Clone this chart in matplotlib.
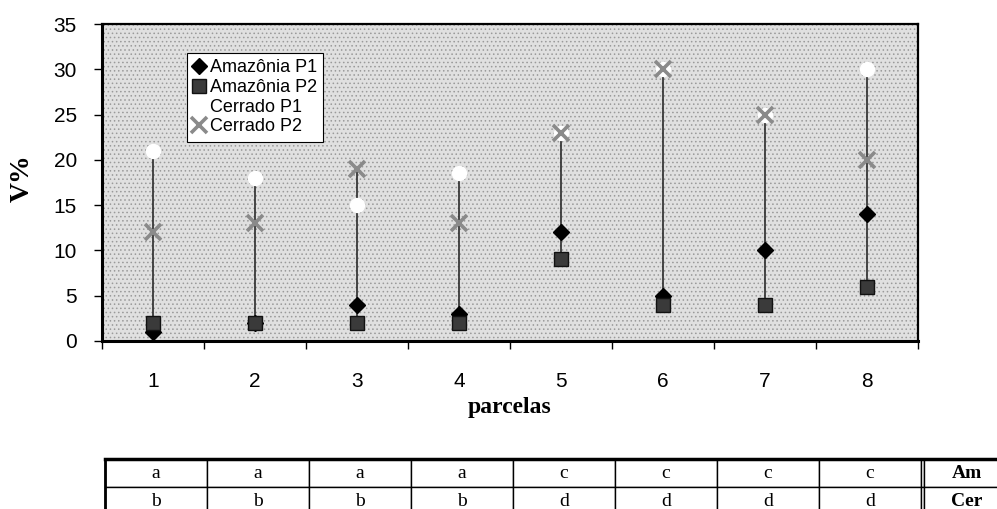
import matplotlib
matplotlib.use("Agg")
import matplotlib.pyplot as plt
import numpy as np

# valores
parcelas = [1, 2, 3, 4, 5, 6, 7, 8]
amazonia_p1 = [1, 2, 4, 3, 12, 5, 10, 14]
amazonia_p2 = [2, 2, 2, 2, 9, 4, 4, 6]
cerrado_p1 = [21, 18, 15, 18.5, 23, 30, 25, 30]
cerrado_p2 = [12, 13, 19, 13, 23, 30, 25, 20]

linha_am = ["a", "a", "a", "a", "c", "c", "c", "c"]
linha_cer = ["b", "b", "b", "b", "d", "d", "d", "d"]

W, H = 997, 509
plt.rcParams['hatch.linewidth'] = 0.6
plt.rcParams['font.family'] = ['Liberation Sans', 'DejaVu Sans']

fig = plt.figure(figsize=(W / 100, H / 100), dpi=100)

# eixo principal (pixels -> fracao)
x0, x1, ytop, ybot = 102, 918, 24, 341
ax = fig.add_axes([x0 / W, 1 - ybot / H, (x1 - x0) / W, (ybot - ytop) / H])
ax.set_facecolor('#e0e0e0')
ax.add_patch(plt.Rectangle((0, 0), 1, 1, transform=ax.transAxes, facecolor='none',
                           edgecolor='#9a9a9a', hatch='....', lw=0, zorder=0))

todas = np.array([amazonia_p1, amazonia_p2, cerrado_p1, cerrado_p2])
ax.vlines(parcelas, todas.min(axis=0), todas.max(axis=0), color='#2a2a2a', lw=1.2, zorder=2)

ax.plot(parcelas, amazonia_p1, ls='none', marker='D', ms=8.5, color='black', label='Amazônia P1', zorder=3)
ax.plot(parcelas, amazonia_p2, ls='none', marker='s', ms=10.5, color='#3a3a3a', mec='#111111',
        label='Amazônia P2', zorder=4)
ax.plot(parcelas, cerrado_p1, ls='none', marker='o', ms=10, color='white', mec='white',
        label='Cerrado P1', zorder=5)
ax.plot(parcelas, cerrado_p2, ls='none', marker='x', ms=11, mew=2.6, color='#8a8a8a',
        label='Cerrado P2', zorder=6)

ax.set_xlim(0.5, 8.5)
ax.set_ylim(0, 35)
ax.set_yticks(range(0, 36, 5))
ax.set_xticks(parcelas)
ax.set_xticks(np.arange(0.5, 9, 1), minor=True)
ax.tick_params(axis='x', which='major', length=0, pad=22, labelsize=15)
ax.tick_params(axis='x', which='minor', length=6, width=1, direction='out')
ax.tick_params(axis='y', length=6, width=1, direction='out', pad=12, labelsize=15)

for s in ['left', 'bottom']:
    ax.spines[s].set_linewidth(2.2)
for s in ['top', 'right']:
    ax.spines[s].set_linewidth(1.6)

leg = ax.legend(loc='upper left', bbox_to_anchor=((187 - x0) / (x1 - x0), (ybot - 53) / (ybot - ytop)),
                borderaxespad=0, fancybox=False, edgecolor='black', framealpha=1,
                fontsize=13, handlelength=0.6, handletextpad=0.3, labelspacing=0.15,
                borderpad=0.35, numpoints=1)
leg.get_frame().set_linewidth(0.8)

fig.text(22 / W, 1 - 178 / H, 'V%', rotation=90, ha='center', va='center',
         fontsize=20, fontweight='bold', family='Liberation Serif')
fig.text(510 / W, 1 - 408 / H, 'parcelas', ha='center', va='center',
         fontsize=17, fontweight='bold', family='Liberation Serif')

# tabela de letras
tl, tr, tt, tb = 105, 1010, 459, 515
tax = fig.add_axes([tl / W, 1 - tb / H, (tr - tl) / W, (tb - tt) / H])
tax.axis('off')
larg = [102] * 8 + [3, 86]
larg = [w / sum(larg) for w in larg]
celulas = [linha_am + ['', 'Am'], linha_cer + ['', 'Cer']]
tab = tax.table(cellText=celulas, colWidths=larg, cellLoc='center', bbox=[0, 0, 1, 1])
tab.auto_set_font_size(False)
for (r, c), cel in tab.get_celld().items():
    cel.set_linewidth(1.0)
    cel.set_edgecolor('black')
    t = cel.get_text()
    t.set_fontsize(14)
    t.set_family('Liberation Serif')
    if c == 9:
        t.set_fontweight('bold')
tax.plot([0, 1], [1, 1], color='black', lw=2.5, transform=tax.transAxes, clip_on=False)
tax.plot([0, 0], [0, 1], color='black', lw=2, transform=tax.transAxes, clip_on=False)

fig.savefig('out.png', dpi=100)
